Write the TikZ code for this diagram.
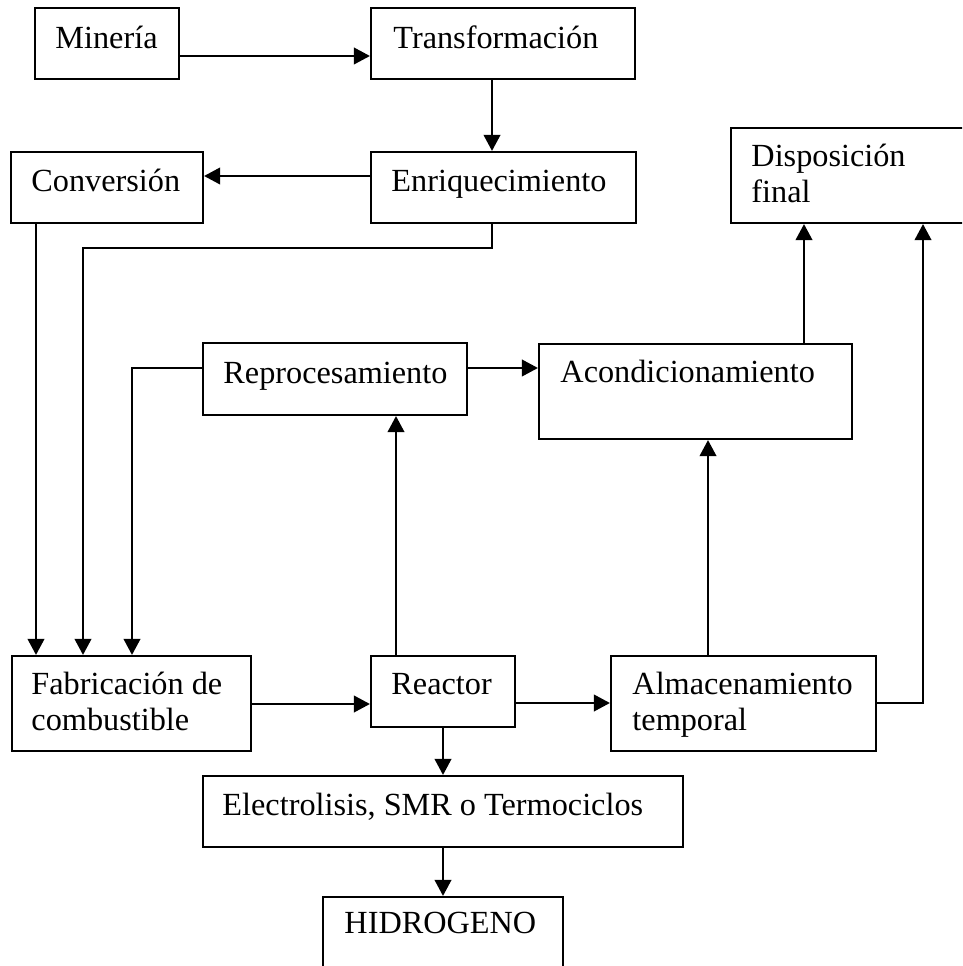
\documentclass[tikz,border=0pt]{standalone}
\usepackage{fontspec}
\setmainfont{Liberation Serif}
\usepackage{tikz}
\usetikzlibrary{positioning,fit,arrows.meta}

\tikzset{
  caja/.style={draw,line width=0.8pt,inner sep=0pt},
  txt/.style={anchor=base west,inner sep=0pt,align=left,
    font=\fontsize{12}{13.5}\selectfont},
  flecha/.style={-{Triangle[length=6pt,width=6.2pt]},line width=0.8pt}
}

\begin{document}
\begin{tikzpicture}[x=0.372pt,y=-0.372pt]
    \useasboundingbox (0,0) rectangle (962,966);
    \clip (0,0) rectangle (962,966);
    % cajas
    \node[caja,fit={(35,8) (179,79)}] (mineria) {};
    \node[caja,fit={(371,8) (635,79)}] (transf) {};
    \node[caja,fit={(11,152) (203,223)}] (conv) {};
    \node[caja,fit={(371,152) (636,223)}] (enriq) {};
    \node[caja,fit={(731,128) (972,223)}] (dispo) {};
    \node[caja,fit={(203,343) (467,415)}] (reproc) {};
    \node[caja,fit={(539,344) (852,439)}] (acond) {};
    \node[caja,fit={(12,656) (251,751)}] (fabric) {};
    \node[caja,fit={(371,656) (515,727)}] (reactor) {};
    \node[caja,fit={(611,656) (876,751)}] (almac) {};
    \node[caja,fit={(203,776) (683,847)}] (electro) {};
    \node[caja,fit={(323,897) (563,980)}] (hidro) {};
    % textos (en las de dos lineas la base es la segunda linea)
    \node[txt] (t-mineria) at ([shift={(21,42)}]mineria.north west) {Minería};
    \node[txt] (t-transf) at ([shift={(23,42)}]transf.north west) {Transformación};
    \node[txt] (t-conv) at ([shift={(21,41)}]conv.north west) {Conversión};
    \node[txt] (t-enriq) at ([shift={(21,41)}]enriq.north west) {Enriquecimiento};
    \node[txt] (t-dispo) at ([shift={(21,76)}]dispo.north west) {Disposición\\final};
    \node[txt] (t-reproc) at ([shift={(21,42)}]reproc.north west) {Reprocesamiento};
    \node[txt] (t-acond) at ([shift={(22,40)}]acond.north west) {Acondicionamiento};
    \node[txt] (t-fabric) at ([shift={(20,76)}]fabric.north west) {Fabricación de\\combustible};
    \node[txt] (t-reactor) at ([shift={(21,40)}]reactor.north west) {Reactor};
    \node[txt] (t-almac) at ([shift={(22,76)}]almac.north west) {Almacenamiento\\temporal};
    \node[txt] (t-electro) at ([shift={(20,41)}]electro.north west) {Electrolisis, SMR o Termociclos};
    \node[txt] (t-hidro) at ([shift={(22,38)}]hidro.north west) {HIDROGENO};
    % flechas
    \draw[flecha] (mineria.east |- 0,56) -- (transf.west |- 0,56);
    \draw[flecha] (transf.south -| 492,0) -- (enriq.north -| 492,0);
    \draw[flecha] (enriq.west |- 0,176) -- (conv.east |- 0,176);
    \draw[flecha] (conv.south -| 36,0) -- (fabric.north -| 36,0);
    \draw[flecha] (enriq.south -| 492,0) |- (83,248) -- (fabric.north -| 83,0);
    \draw[flecha] (reproc.west |- 0,368) -| (fabric.north -| 132,0);
    \draw[flecha] (fabric.east |- 0,704) -- (reactor.west |- 0,704);
    \draw[flecha] (reactor.north -| 396,0) -- (reproc.south -| 396,0);
    \draw[flecha] (reproc.east |- 0,368) -- (acond.west |- 0,368);
    \draw[flecha] (reactor.east |- 0,703) -- (almac.west |- 0,703);
    \draw[flecha] (almac.north -| 708,0) -- (acond.south -| 708,0);
    \draw[flecha] (acond.north -| 804,0) -- (dispo.south -| 804,0);
    \draw[flecha] (almac.east |- 0,703) -| (dispo.south -| 923,0);
    \draw[flecha] (reactor.south) -- (electro.north -| reactor.south);
    \draw[flecha] (electro.south -| reactor.south) -- (hidro.north -| reactor.south);
\end{tikzpicture}
\end{document}
